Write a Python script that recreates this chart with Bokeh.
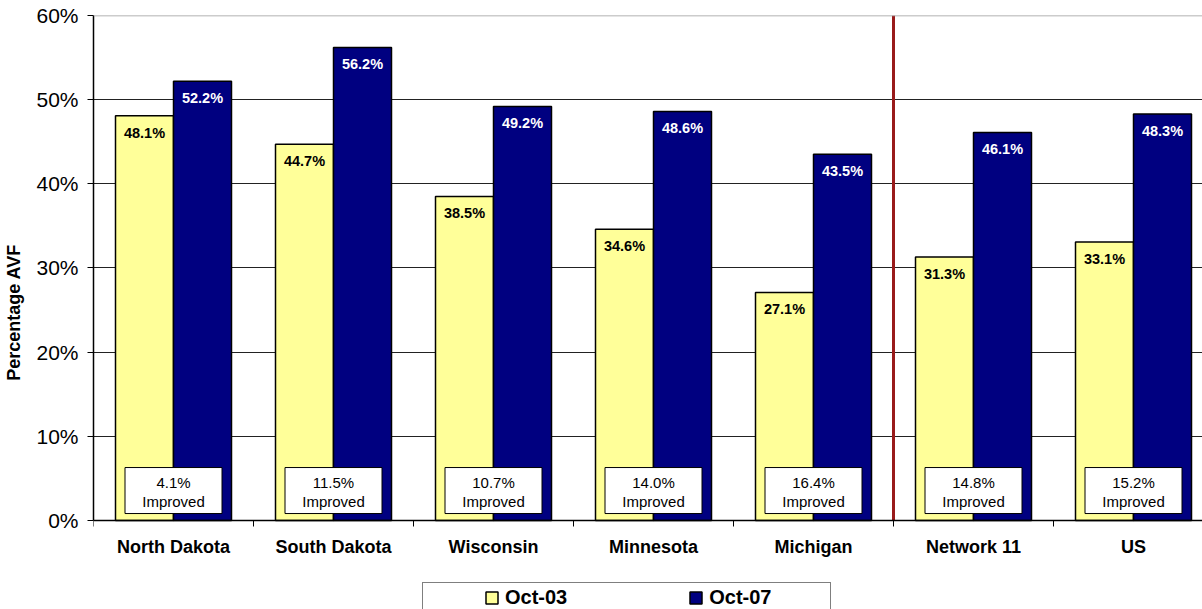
from bokeh.plotting import figure
from bokeh.models import (ColumnDataSource, FixedTicker, PrintfTickFormatter, Span,
                          Legend, LegendItem, Range1d)
from bokeh.transform import dodge
from bokeh.core.properties import value
from bokeh.embed import file_html
from bokeh.resources import INLINE

categories = ["North Dakota", "South Dakota", "Wisconsin", "Minnesota", "Michigan", "Network 11", "US"]
oct03 = [48.1, 44.7, 38.5, 34.6, 27.1, 31.3, 33.1]
oct07 = [52.2, 56.2, 49.2, 48.6, 43.5, 46.1, 48.3]
improved = [4.1, 11.5, 10.7, 14.0, 16.4, 14.8, 15.2]
y_ticks = [0, 10, 20, 30, 40, 50, 60]
series_names = ["Oct-03", "Oct-07"]

FONT_NAME = "Liberation Sans"
FONT = value(FONT_NAME)
centers = [i + 0.5 for i in range(len(categories))]
src = ColumnDataSource(dict(
    x=centers, cat=categories, a=oct03, b=oct07,
    a_lab=[f"{v:.1f}%" for v in oct03],
    b_lab=[f"{v:.1f}%" for v in oct07],
    imp=[f"{v:.1f}%" for v in improved],
    imp2=["Improved"] * len(categories),
))

y_min = -10.575  # space below 0 for category labels and legend
p = figure(width=1202, height=609, x_range=Range1d(0, 6.93125), y_range=Range1d(y_min, 60),
           output_backend="svg", toolbar_location=None,
           min_border_left=93, min_border_right=0, min_border_top=15, min_border_bottom=0)
p.outline_line_color = None
p.background_fill_color = "white"
p.border_fill_color = "white"

bw = 0.3625
off = bw / 2
ra = p.vbar(x=dodge("x", -off), top="a", width=bw, bottom=0, source=src,
            fill_color="#FFFF99", line_color="black", line_width=1.5)
rb = p.vbar(x=dodge("x", off), top="b", width=bw, bottom=0, source=src,
            fill_color="#000080", line_color="black", line_width=1.5)

p.text(x=dodge("x", -off), y="a", text="a_lab", source=src, text_align="center",
       text_baseline="top", y_offset=9, text_font=FONT, text_font_style="bold",
       text_font_size="14.5px", text_color="black")
p.text(x=dodge("x", off), y="b", text="b_lab", source=src, text_align="center",
       text_baseline="top", y_offset=9, text_font=FONT, text_font_style="bold",
       text_font_size="14.5px", text_color="white")

p.rect(x="x", y=3.56, width=97, height=46, width_units="screen", height_units="screen",
       source=src, fill_color="white", line_color="black", line_width=1)
p.text(x="x", y=4.5, text="imp", source=src, text_align="center", text_baseline="middle",
       text_font=FONT, text_font_size="15px", text_color="black")
p.text(x="x", y=2.26, text="imp2", source=src, text_align="center", text_baseline="middle",
       text_font=FONT, text_font_size="15px", text_color="black")

sep = categories.index("Network 11")
p.segment(x0=[sep], y0=[0], x1=[sep], y1=[y_ticks[-1]], line_color="#991B1B", line_width=3)
p.add_layout(Span(location=60, dimension="width", line_color="#999999", line_width=1.5))

p.xgrid.visible = False
p.ygrid.ticker = FixedTicker(ticks=y_ticks)
p.ygrid.grid_line_color = "#222222"
p.ygrid.grid_line_width = 1

ya = p.yaxis[0]
ya.ticker = FixedTicker(ticks=y_ticks)
ya.bounds = (0, 60)
ya.formatter = PrintfTickFormatter(format="%d%%")
ya.major_tick_out = 6
ya.major_tick_in = 0
ya.minor_tick_out = 0
ya.minor_tick_in = 0
ya.major_label_standoff = 9
ya.major_label_text_font = FONT_NAME
ya.major_label_text_font_size = "21px"
ya.major_label_text_color = "black"
ya.axis_line_color = "black"
ya.axis_line_width = 1.5
ya.major_tick_line_color = "black"
ya.axis_label = "Percentage AVF"
ya.axis_label_text_font = FONT_NAME
ya.axis_label_text_font_style = "bold"
ya.axis_label_text_font_size = "18px"
ya.axis_label_text_color = "black"
ya.axis_label_standoff = 9

xa = p.xaxis[0]
xa.fixed_location = 0
xa.ticker = FixedTicker(ticks=centers, minor_ticks=list(range(len(categories) + 1)))
xa.major_label_overrides = {c: n for c, n in zip(centers, categories)}
xa.major_tick_out = 0
xa.major_tick_in = 0
xa.minor_tick_out = 6
xa.minor_tick_in = 0
xa.minor_tick_line_color = "black"
xa.major_label_standoff = 11
xa.major_label_text_font = FONT_NAME
xa.major_label_text_font_style = "bold"
xa.major_label_text_font_size = "18px"
xa.major_label_text_color = "black"
xa.axis_line_color = "black"
xa.axis_line_width = 1.5

legend = Legend(items=[LegendItem(label=series_names[0], renderers=[ra]),
                       LegendItem(label=series_names[1], renderers=[rb])],
                orientation="horizontal", spacing=121, margin=0,
                glyph_width=15, glyph_height=15, label_standoff=6, label_height=23,
                label_text_font=FONT_NAME, label_text_font_style="bold",
                label_text_font_size="20px", label_text_color="black",
                border_line_color="black", border_line_width=1,
                background_fill_color="white", background_fill_alpha=1)
try:
    legend.padding = dict(left=61, right=58, top=3, bottom=3)
    legend.location = (329, -4)
except Exception:
    legend.padding = 3
    legend.location = (387, -4)
p.add_layout(legend, "center")

open("out.html", "w").write(file_html(p, INLINE))
